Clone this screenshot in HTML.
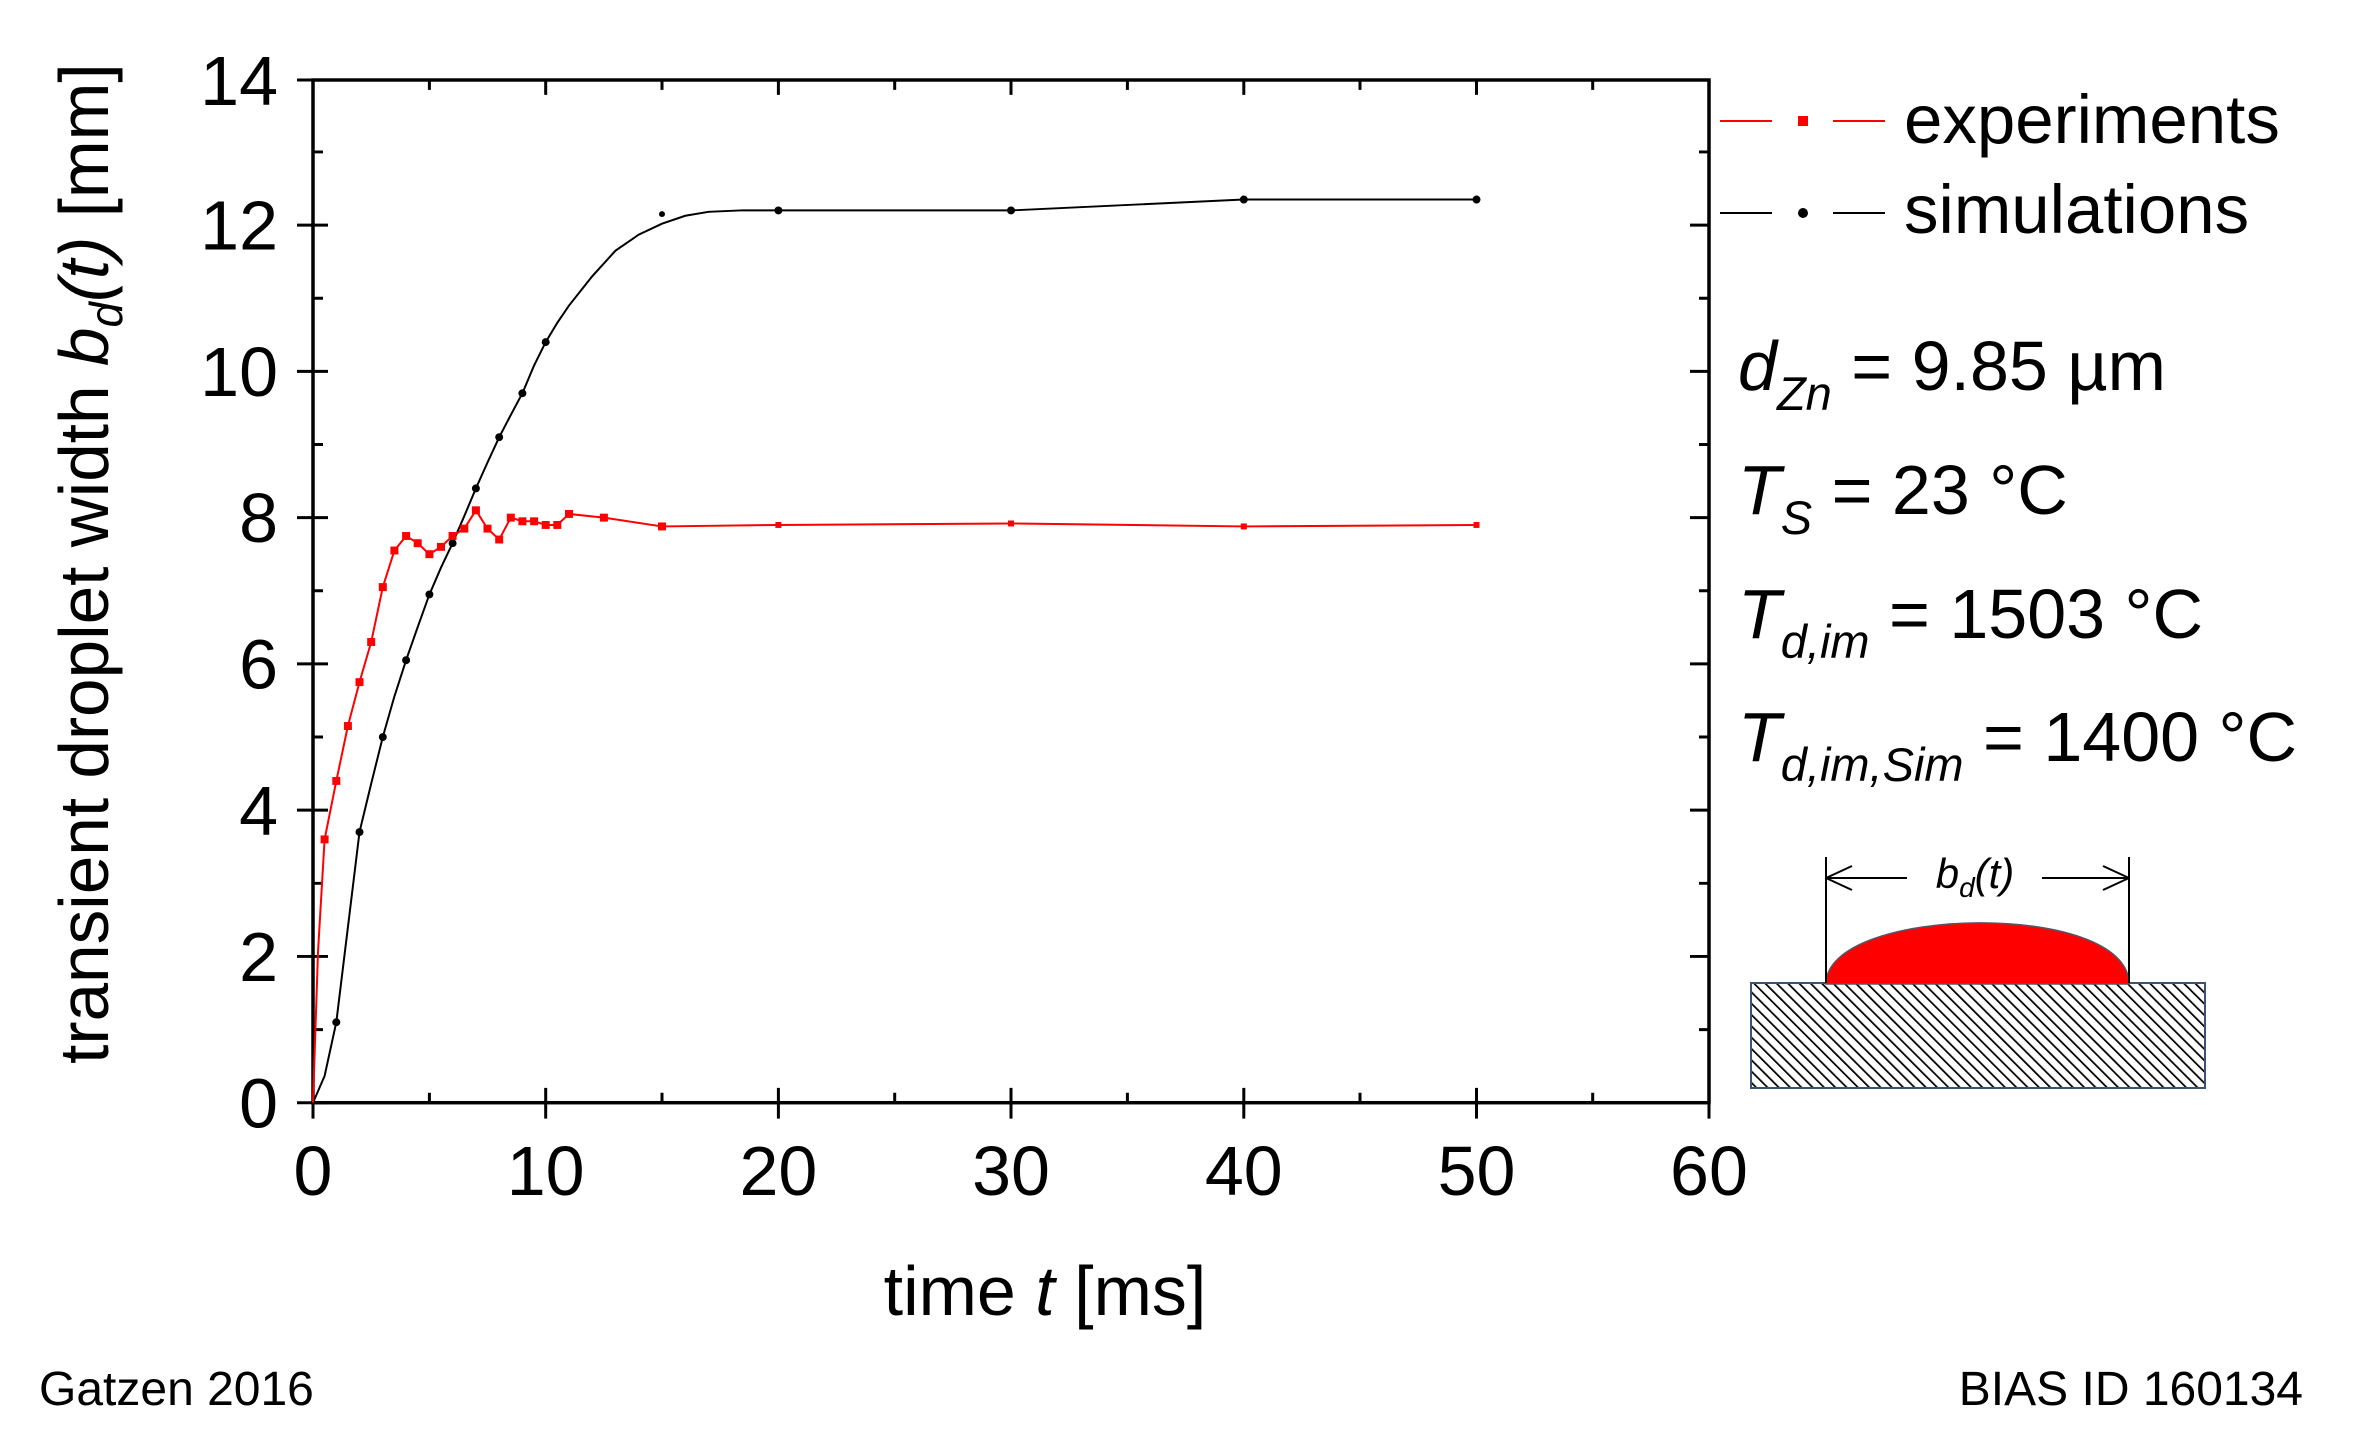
<!DOCTYPE html>
<html><head><meta charset="utf-8"><style>
html,body{margin:0;padding:0;background:#fff;}
svg{display:block;}
text{font-family:"Liberation Sans",Arial,sans-serif;fill:#000;}
</style></head><body>
<svg width="2356" height="1449" viewBox="0 0 2356 1449" xmlns="http://www.w3.org/2000/svg">
<defs>
<pattern id="h" width="8" height="8" patternUnits="userSpaceOnUse" patternTransform="rotate(-45)">
<rect width="8" height="8" fill="#fff"/><line x1="0" y1="0" x2="0" y2="8" stroke="#000" stroke-width="3.5"/>
</pattern>
</defs>
<g transform="translate(0,80) scale(1,0.991) translate(0,-80)">
<rect x="313" y="80" width="1396" height="1032" fill="none" stroke="#000" stroke-width="3.5"/>
<g stroke="#000" stroke-width="3">
<path d="M313 1097V1128M545.7 1097V1128M778.4 1097V1128M1011 1097V1128M1243.8 1097V1128M1476.5 1097V1128M1709 1097V1128"/>
<path d="M429.4 1112V1102M662 1112V1102M894.7 1112V1102M1127.4 1112V1102M1360 1112V1102M1592.7 1112V1102"/>
<path d="M545.7 80V95M778.4 80V95M1011 80V95M1243.8 80V95M1476.5 80V95M429.4 80V90M662 80V90M894.7 80V90M1127.4 80V90M1360 80V90M1592.7 80V90"/>
<path d="M297 1112H328M297 964.4H328M297 816.8H328M297 669.2H328M297 521.6H328M297 374H328M297 226.4H328M297 80H328"/>
<path d="M313 1038.2H323M313 890.6H323M313 743H323M313 595.4H323M313 447.8H323M313 300.2H323M313 152.6H323"/>
<path d="M1709 964.4H1690M1709 816.8H1690M1709 669.2H1690M1709 521.6H1690M1709 374H1690M1709 226.4H1690"/>
<path d="M1709 1038.2H1699M1709 890.6H1699M1709 743H1699M1709 595.4H1699M1709 447.8H1699M1709 300.2H1699M1709 152.6H1699"/>
</g>
<g font-size="70" text-anchor="middle">
<text x="313" y="1205">0</text><text x="545.7" y="1205">10</text><text x="778.4" y="1205">20</text><text x="1011" y="1205">30</text><text x="1243.8" y="1205">40</text><text x="1476.5" y="1205">50</text><text x="1709" y="1205">60</text>
</g>
<g font-size="70" text-anchor="end">
<text x="278" y="1137">0</text><text x="278" y="989">2</text><text x="278" y="842">4</text><text x="278" y="694">6</text><text x="278" y="546">8</text><text x="278" y="399">10</text><text x="278" y="251">12</text><text x="278" y="105">14</text>
</g>
<text x="1045" y="1326" font-size="70" text-anchor="middle">time <tspan font-style="italic">t</tspan> [ms]</text>
<text transform="translate(108,568) rotate(-90)" font-size="70" text-anchor="middle">transient droplet width <tspan font-style="italic">b</tspan><tspan font-style="italic" font-size="46" dy="14">d</tspan><tspan dy="-14" font-style="italic">(t)</tspan> [mm]</text>
<polyline fill="none" stroke="#000" stroke-width="2" points="313,1112 324.6,1085 336.3,1030.8 347.9,935 359.5,838.9 371.2,790 382.8,743 394.4,702 406.1,665.5 417.7,632 429.4,599.1 441,572 452.6,547.4 464.3,520 475.9,492.1 487.5,466 499.2,440.4 510.8,418 522.4,396.1 534.1,368 545.7,344.5 557.3,325 569,307.6 592.2,278.1 615.5,252.2 638.8,236 662,225 685.3,217 708.6,213 743,211.5 778.4,211.6 1011,211.6 1243.8,200.6 1476.5,200.6"/>
<g fill="#000">
<circle cx="336.3" cy="1030.8" r="4"/><circle cx="359.5" cy="838.9" r="4"/><circle cx="382.8" cy="743" r="4"/><circle cx="406.1" cy="665.5" r="4"/><circle cx="429.4" cy="599.1" r="4"/><circle cx="452.6" cy="547.4" r="4"/><circle cx="475.9" cy="492.1" r="4"/><circle cx="499.2" cy="440.4" r="4"/><circle cx="522.4" cy="396.1" r="4"/><circle cx="545.7" cy="344.5" r="4"/><circle cx="662" cy="215.3" r="3"/><circle cx="778.4" cy="211.6" r="4"/><circle cx="1011" cy="211.6" r="4"/><circle cx="1243.8" cy="200.6" r="4"/><circle cx="1476.5" cy="200.6" r="4"/>
</g>
<polyline fill="none" stroke="#f00" stroke-width="2" points="313,1112 318,960 324.6,846.3 336.3,787.3 347.9,731.9 359.5,687.6 371.2,647.1 382.8,591.7 394.4,554.8 406.1,540.1 417.7,547.4 429.4,558.5 441,551.1 452.6,540.1 464.3,532.7 475.9,514.2 487.5,532.7 499.2,543.7 510.8,521.6 522.4,525.3 534.1,525.3 545.7,529 557.3,529 569,517.9 603.9,521.6 662,530.5 778.4,529 1011,527.5 1243.8,530.5 1476.5,529"/>
<g fill="#f00">
<rect x="320.6" y="842.3" width="8" height="8"/><rect x="332.3" y="783.3" width="8" height="8"/><rect x="343.9" y="727.9" width="8" height="8"/><rect x="355.5" y="683.6" width="8" height="8"/><rect x="367.2" y="643.1" width="8" height="8"/><rect x="378.8" y="587.7" width="8" height="8"/><rect x="390.4" y="550.8" width="8" height="8"/><rect x="402.1" y="536.1" width="8" height="8"/><rect x="413.7" y="543.4" width="8" height="8"/><rect x="425.4" y="554.5" width="8" height="8"/><rect x="437" y="547.1" width="8" height="8"/><rect x="448.6" y="536.1" width="8" height="8"/><rect x="460.3" y="528.7" width="8" height="8"/><rect x="471.9" y="510.2" width="8" height="8"/><rect x="483.5" y="528.7" width="8" height="8"/><rect x="495.2" y="539.7" width="8" height="8"/><rect x="506.8" y="517.6" width="8" height="8"/><rect x="518.4" y="521.3" width="8" height="8"/><rect x="530.1" y="521.3" width="8" height="8"/><rect x="541.7" y="525" width="8" height="8"/><rect x="553.3" y="525" width="8" height="8"/><rect x="565" y="513.9" width="8" height="8"/><rect x="599.9" y="517.6" width="8" height="8"/><rect x="658" y="526.5" width="8" height="8"/><rect x="775.4" y="526" width="6" height="6"/><rect x="1008" y="524.5" width="6" height="6"/><rect x="1240.8" y="527.5" width="6" height="6"/><rect x="1473.5" y="526" width="6" height="6"/>
</g>
</g>
<!-- legend -->
<path d="M1720 121H1772M1833 121H1885" stroke="#f00" stroke-width="2"/>
<rect x="1798" y="116" width="10" height="10" fill="#f00"/>
<path d="M1720 213H1772M1833 213H1885" stroke="#000" stroke-width="2"/>
<circle cx="1803" cy="213" r="5" fill="#000"/>
<text x="1904" y="143" font-size="69">experiments</text>
<text x="1904" y="233" font-size="69">simulations</text>
<g font-size="70">
<text x="1738" y="390"><tspan font-style="italic">d</tspan><tspan font-style="italic" font-size="47" dy="20">Zn</tspan><tspan dy="-20"> = 9.85 µm</tspan></text>
<text x="1738" y="514"><tspan font-style="italic">T</tspan><tspan font-style="italic" font-size="47" dy="20">S</tspan><tspan dy="-20"> = 23 °C</tspan></text>
<text x="1738" y="638"><tspan font-style="italic">T</tspan><tspan font-style="italic" font-size="47" dy="20">d,im</tspan><tspan dy="-20"> = 1503 °C</tspan></text>
<text x="1738" y="761"><tspan font-style="italic">T</tspan><tspan font-style="italic" font-size="47" dy="20">d,im,Sim</tspan><tspan dy="-20"> = 1400 °C</tspan></text>
</g>
<!-- inset -->
<rect x="1751" y="983" width="454" height="105" fill="url(#h)" stroke="#3a5470" stroke-width="2"/>
<path d="M1826 984 C1826 905 2129 900 2129 984 Z" fill="#f00" stroke="#556" stroke-width="1.5"/>
<g stroke="#000" stroke-width="2" fill="none">
<path d="M1826 857V983M2129 857V983"/>
<path d="M1826 878H1907M1826 878L1852 866M1826 878L1852 890"/>
<path d="M2042 878H2129M2129 878L2103 866M2129 878L2103 890"/>
</g>
<text x="1975" y="888" font-size="42" text-anchor="middle" font-style="italic">b<tspan font-size="28" dy="9">d</tspan><tspan dy="-9">(t)</tspan></text>
<text x="39" y="1405" font-size="48">Gatzen 2016</text>
<text x="2303" y="1405" font-size="48" text-anchor="end">BIAS ID 160134</text>
</svg>
</body></html>
